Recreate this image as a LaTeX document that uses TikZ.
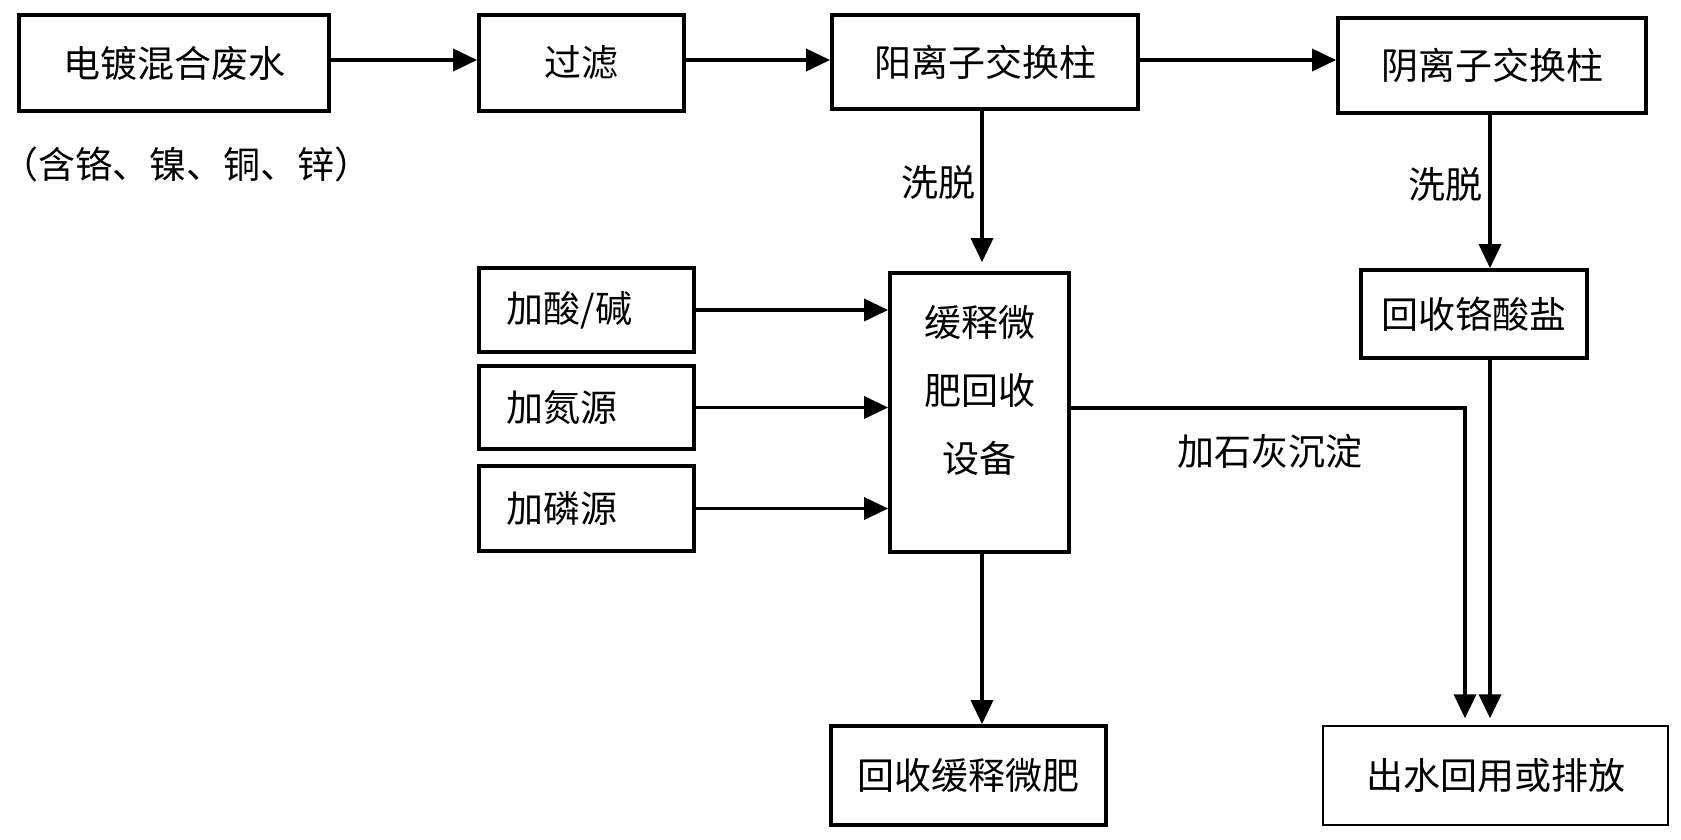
\documentclass[tikz,border=0pt]{standalone}
\usepackage{fontspec}
\setmainfont{Noto Sans CJK SC}
\usetikzlibrary{arrows.meta}
\newcommand{\hparen}[1]{{\addfontfeatures{RawFeature=+halt}#1}}
\begin{document}
\begin{tikzpicture}[x=1pt,y=-1pt,
  box/.style={draw,line width=3.8pt,inner sep=0pt,font=\fontsize{37}{44}\selectfont},
  thinbox/.style={draw,line width=1.4pt,inner sep=0pt,font=\fontsize{37}{44}\selectfont},
  lbl/.style={inner sep=0pt,font=\fontsize{37}{44}\selectfont},
  arr/.style={line width=3.6pt,-{Triangle[length=24pt,width=22pt]}},
  ln/.style={line width=3.6pt}]
\useasboundingbox (0,0) rectangle (1681,839);
% top row
\node[box,minimum width=310pt,minimum height=96pt] (waste) at (174,63) {电镀混合废水};
\node[lbl,anchor=west] (metal) at (20,164) {\hparen{（}含铬、镍、铜、锌\hparen{）}};
\node[box,minimum width=205pt,minimum height=96pt] (filter) at (581.5,63) {过滤};
\node[box,minimum width=306pt,minimum height=94pt] (cation) at (985,62) {阳离子交换柱};
\node[box,minimum width=308pt,minimum height=95pt] (anion) at (1492,65.5) {阴离子交换柱};
% left additions
\node[box,minimum width=215pt,minimum height=84pt,text width=160pt,align=left] (acid) at (586.5,310) {加酸/碱};
\node[box,minimum width=215pt,minimum height=83pt,text width=160pt,align=left] (nitro) at (586.5,407.5) {加氮源};
\node[box,minimum width=215pt,minimum height=85pt,text width=160pt,align=left] (phos) at (586.5,508.5) {加磷源};
% device
\node[box,minimum width=179pt,minimum height=279pt] (device) at (979.5,412.5) {};
\node[lbl,align=center,font=\fontsize{37}{68}\selectfont] (devtxt) at ([yshift=22pt]device.center) {缓释微\\肥回收\\设备};
% chromate
\node[box,minimum width=226pt,minimum height=88pt] (chrom) at (1474,314) {回收铬酸盐};
% bottom
\node[box,minimum width=275pt,minimum height=99pt] (fert) at (968.5,775.5) {回收缓释微肥};
\node[thinbox,minimum width=345pt,minimum height=99pt] (outw) at (1495.5,775.5) {出水回用或排放};
% labels
\node[lbl] (elu1) at (938,182) {洗脱};
\node[lbl] (elu2) at (1445,184) {洗脱};
\node[lbl] (lime) at (1270,451) {加石灰沉淀};
% coordinates
\coordinate (cx) at (982,0);
\coordinate (ax) at (1490,0);
\coordinate (lx) at (1465,0);
\coordinate (hy) at (0,408);
% connectors
\draw[arr] (waste.east |- 0,60) -- (filter.west |- 0,60);
\draw[arr] (filter.east |- 0,60) -- (cation.west |- 0,60);
\draw[arr] (cation.east |- 0,60) -- (anion.west |- 0,60);
\draw[arr,shorten >=9pt] (cation.south -| cx) -- (device.north -| cx);
\draw[arr] (anion.south -| ax) -- (chrom.north -| ax);
\draw[arr] (acid.east) -- (acid.east -| device.west);
\draw[arr] (nitro.east) -- (nitro.east -| device.west);
\draw[arr] (phos.east) -- (phos.east -| device.west);
\draw[arr] (device.south -| cx) -- (fert.north -| cx);
\draw[arr,shorten >=7pt] (device.east |- hy) -- (lx |- hy) -- (outw.north -| lx);
\draw[arr,shorten >=7pt] (chrom.south -| ax) -- (outw.north -| ax);
\end{tikzpicture}
\end{document}
